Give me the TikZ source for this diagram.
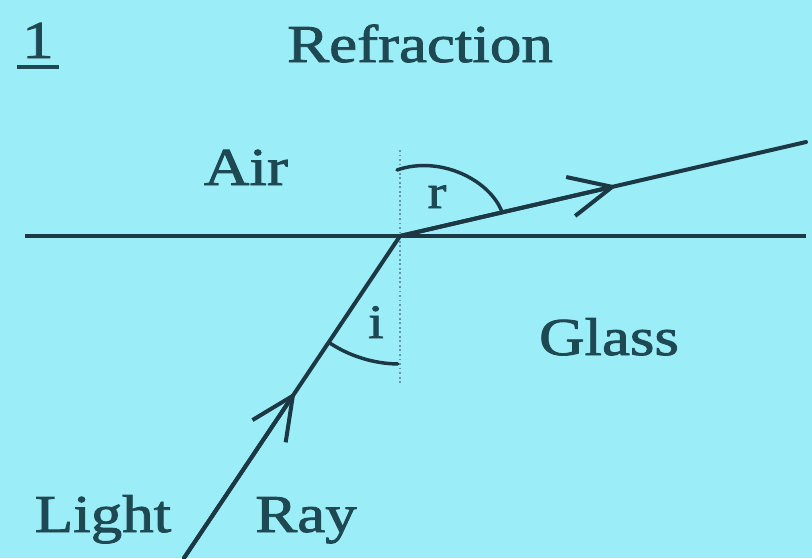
\documentclass[tikz,border=0pt]{standalone}
\usepackage{fontspec}
\setmainfont{Liberation Serif}[FakeStretch=1.18,FakeBold=1.6]
\usetikzlibrary{arrows.meta,calc}
\definecolor{sky}{RGB}{155,238,248}
\definecolor{ink}{RGB}{28,56,68}
\definecolor{txt}{RGB}{30,72,82}
\definecolor{normcol}{RGB}{105,150,165}

\begin{document}
\begin{tikzpicture}[x=.75pt,y=-.75pt,
  lbl/.style={text=txt,font=\fontsize{40}{44}\selectfont,inner sep=0pt,anchor=base},
  small/.style={lbl,font=\fontsize{36}{40}\selectfont},
  ray/.style={draw=ink,line width=3pt,line cap=round},
  barb/.style={ray,-{Straight Barb[length=32pt,width=30pt]}},
  angle/.style={draw=ink,line width=2.6pt,line cap=round}]
\fill[sky] (0,0) rectangle (812,558);
\useasboundingbox (0,0) rectangle (812,558);
% points of the figure
\coordinate (O) at (400,236);
\coordinate (west) at (25,236);
\coordinate (east) at (806,236);
\coordinate (ntop) at (400,150);
\coordinate (nbot) at (400,384);
\coordinate (src) at (184,558);
\coordinate (dst) at (806,142);
% normal and boundary
\draw[normcol,line width=1.4pt,dotted] (ntop) -- (nbot);
\draw[ink,line width=3.6pt] (west) -- (east);
% rays
\draw[ray] (src) -- (O);
\draw[barb] (src) -- ($(src)!.516!(O)$);
\draw[ray] (O) -- (dst);
\draw[barb] (O) -- ($(O)!.534!(dst)$);
% angles
\draw[angle] ($(O)+(123.9:128)$) arc[start angle=123.9,end angle=91,radius=128];
\draw[angle] (397,170) .. controls (440,155) and (490,180) .. (502,212);
% labels
\node[lbl] (num) at (38,58) {1};
\draw[txt,line width=3pt] ([xshift=-4pt,yshift=-7pt]num.base west) -- ([xshift=4pt,yshift=-7pt]num.base east);
\node[lbl] (title) at (420,62) {Refraction};
\node[lbl] (air) at (246,185) {Air};
\node[small] (angr) at (437,208) {r};
\node[small] (angi) at (376,338) {i};
\node[lbl] (glass) at (609,355) {Glass};
\node[lbl] (light) at (103,532) {Light};
\node[lbl] (rayl) at (306,532) {Ray};
\end{tikzpicture}
\end{document}
